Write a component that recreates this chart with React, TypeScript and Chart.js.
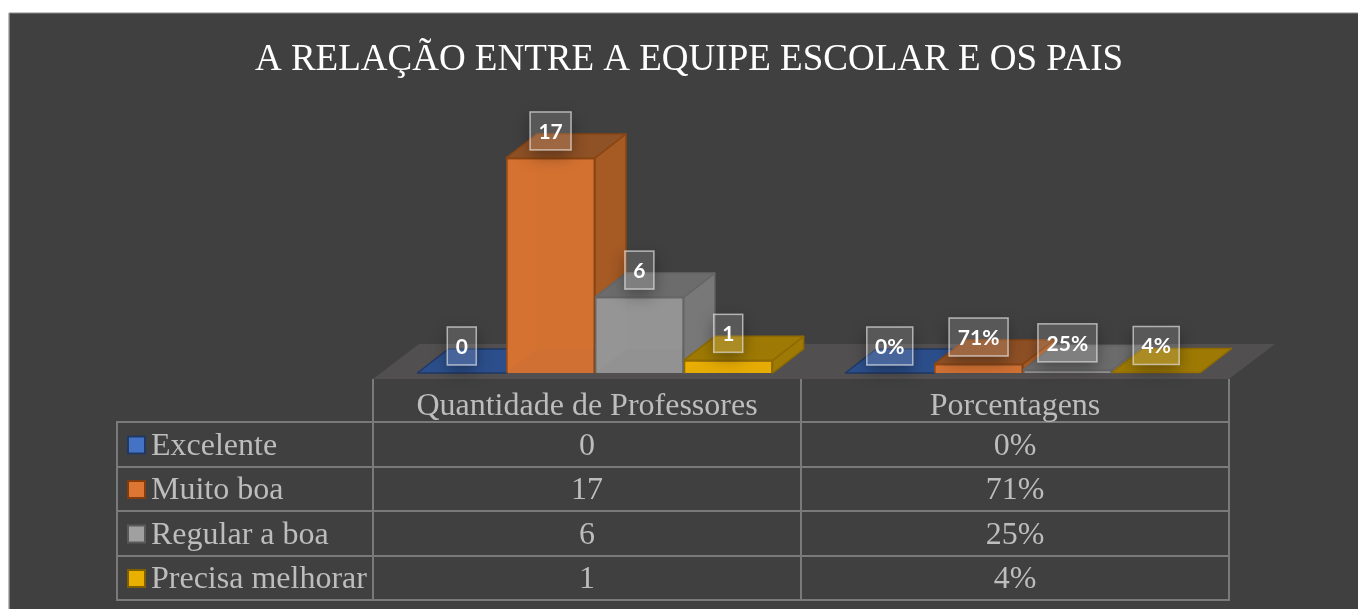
import React, { useEffect, useRef } from "react";
import { Chart, registerables } from "chart.js";

Chart.register(...registerables);

const chartTitle = "A RELAÇÃO ENTRE A EQUIPE ESCOLAR E OS PAIS";
const categories = ["Quantidade de Professores", "Porcentagens"];
const seriesNames = ["Excelente", "Muito boa", "Regular a boa", "Precisa melhorar"];
const excelente = [0, 0];
const muitoBoa = [17, 0.71];
const regularBoa = [6, 0.25];
const precisaMelhorar = [1, 0.04];
const excelenteText = ["0", "0%"];
const muitoBoaText = ["17", "71%"];
const regularBoaText = ["6", "25%"];
const precisaMelhorarText = ["1", "4%"];

const seriesValues = [excelente, muitoBoa, regularBoa, precisaMelhorar];
const seriesText = [excelenteText, muitoBoaText, regularBoaText, precisaMelhorarText];

const frontColors = ["rgba(68,114,196,0.9)", "rgba(216,115,50,0.94)", "rgba(152,152,152,0.92)", "rgba(238,176,0,0.95)"];
const borderColors = ["#1F3864", "#8A4513", "#666666", "#8F6A00"];
const topColors = ["#2C4F8C", "#8F5126", "#6C6C6C", "#9E7A04"];
const sideColors = ["#2C4F8C", "#A65A24", "#787878", "#9E7A04"];
const keyColors = ["#4472C4", "#DD7533", "#A0A0A0", "#EAB000"];
const keyBorders = ["#203864", "#843C0C", "#5A5A5A", "#7F6000"];

const DX = 31;
const DY = 24;

function poly(ctx: CanvasRenderingContext2D, pts: number[][], fill: string | null, stroke?: string, lw = 1.5) {
  ctx.beginPath();
  pts.forEach((p, i) => (i ? ctx.lineTo(p[0], p[1]) : ctx.moveTo(p[0], p[1])));
  ctx.closePath();
  if (fill) {
    ctx.fillStyle = fill;
    ctx.fill();
  }
  if (stroke) {
    ctx.strokeStyle = stroke;
    ctx.lineWidth = lw;
    ctx.lineJoin = "round";
    ctx.stroke();
  }
}

const scene3d = {
  id: "scene3d",
  beforeDraw(chart: any) {
    const ctx = chart.ctx as CanvasRenderingContext2D;
    ctx.save();
    ctx.fillStyle = "#404040";
    ctx.fillRect(9, 13, 1349, 596);
    ctx.fillStyle = "#BDBDBD";
    ctx.fillRect(8, 13, 1.5, 596);
    ctx.fillStyle = "#8C8C8C";
    ctx.fillRect(9, 12.5, 1349, 1);
    ctx.fillStyle = "#FFFFFF";
    ctx.font = "37px 'Liberation Serif'";
    ctx.textAlign = "center";
    ctx.textBaseline = "middle";
    ctx.fillText(chartTitle, 689, 60);
    ctx.restore();
  },
  beforeDatasetsDraw(chart: any) {
    const ctx = chart.ctx as CanvasRenderingContext2D;
    const { left, right } = chart.chartArea;
    const base = chart.scales.y.getPixelForValue(0);
    const tableLeft = left - 8;
    const tableRight = right - 8;
    ctx.save();
    poly(ctx, [
      [tableLeft, base + 6],
      [tableRight, base + 6],
      [tableRight + 46, base - 29],
      [tableLeft + 46, base - 29],
    ], "#514F4F");
    categories.forEach((_, c) => {
      seriesValues.forEach((_, s) => {
        const el = chart.getDatasetMeta(s).data[c];
        const { x, y, base: b, width } = el.getProps(["x", "y", "base", "width"], true);
        const l = x - width / 2;
        const r = x + width / 2;
        if (b - y > 8) {
          poly(ctx, [[l, b], [l + DX, b - DY], [l + DX, y - DY], [l, y]], sideColors[s]);
          poly(ctx, [[l + DX, y - DY], [r + DX, y - DY], [r + DX, b - DY], [l + DX, b - DY]], topColors[s]);
        }
        if (b - y > 1) {
          poly(ctx, [[r, y], [r + DX, y - DY], [r + DX, b - DY], [r, b]], sideColors[s], borderColors[s]);
        }
        poly(ctx, [[l, y], [r, y], [r + DX, y - DY], [l + DX, y - DY]], topColors[s], borderColors[s]);
      });
    });
    ctx.restore();
  },
  afterDatasetsDraw(chart: any) {
    const ctx = chart.ctx as CanvasRenderingContext2D;
    ctx.save();
    ctx.font = "bold 21px Lato";
    ctx.textAlign = "center";
    ctx.textBaseline = "middle";
    categories.forEach((_, c) => {
      seriesValues.forEach((_, s) => {
        const el = chart.getDatasetMeta(s).data[c];
        const { x, y } = el.getProps(["x", "y"], true);
        const text = seriesText[s][c];
        const w = Math.round(ctx.measureText(text).width) + 17;
        const h = 38;
        const cy = y - 27;
        const bx = x - w / 2;
        const by = cy - h / 2;
        ctx.save();
        ctx.beginPath();
        ctx.rect(0, 0, 1358, 609);
        ctx.rect(bx, by, w, h);
        ctx.clip("evenodd");
        ctx.shadowColor = "rgba(0,0,0,0.35)";
        ctx.shadowBlur = 16;
        ctx.shadowOffsetY = 6;
        ctx.fillStyle = "#000";
        ctx.fillRect(bx, by, w, h);
        ctx.restore();
        ctx.fillStyle = "rgba(255,255,255,0.13)";
        ctx.fillRect(bx, by, w, h);
        ctx.strokeStyle = "rgba(255,255,255,0.6)";
        ctx.lineWidth = 1.5;
        ctx.strokeRect(bx, by, w, h);
        ctx.fillStyle = "#FFFFFF";
        ctx.fillText(text, x, cy + 1);
      });
    });
    ctx.restore();

    // Data table below the plot
    const { left, right } = chart.chartArea;
    const base = chart.scales.y.getPixelForValue(0);
    const tl = left - 8;
    const tr = right - 8;
    const tm = (tl + tr) / 2;
    const tableOuter = 117;
    const rowLines = [422, 467, 511, 556, 600];
    const tableTop = base + 6;
    ctx.save();
    ctx.strokeStyle = "#7A7A7A";
    ctx.lineWidth = 2;
    ctx.beginPath();
    [tl, tm, tr].forEach((vx) => {
      ctx.moveTo(vx, tableTop);
      ctx.lineTo(vx, rowLines[4]);
    });
    ctx.moveTo(tableOuter, rowLines[0]);
    ctx.lineTo(tableOuter, rowLines[4]);
    rowLines.forEach((ry) => {
      ctx.moveTo(tableOuter - 1, ry);
      ctx.lineTo(tr + 1, ry);
    });
    ctx.stroke();
    ctx.font = "32px 'Liberation Serif'";
    ctx.textBaseline = "middle";
    ctx.textAlign = "center";
    ctx.fillStyle = "#BDBDBD";
    const colCenters = [(tl + tm) / 2, (tm + tr) / 2];
    categories.forEach((cat, c) => ctx.fillText(cat, colCenters[c], 407));
    seriesNames.forEach((name, s) => {
      const cy = (rowLines[s] + rowLines[s + 1]) / 2 + 2;
      ctx.fillStyle = keyColors[s];
      ctx.strokeStyle = keyBorders[s];
      ctx.lineWidth = 2;
      ctx.fillRect(128, cy - 10, 17, 17);
      ctx.strokeRect(128, cy - 10, 17, 17);
      ctx.fillStyle = "#BDBDBD";
      ctx.textAlign = "left";
      ctx.fillText(name, 151, cy);
      ctx.textAlign = "center";
      categories.forEach((_, c) => ctx.fillText(seriesText[s][c], colCenters[c], cy));
    });
    ctx.restore();
  },
};

export default function App() {
  const ref = useRef<HTMLCanvasElement | null>(null);
  useEffect(() => {
    if (!ref.current) return;
    const chart = new Chart(ref.current, {
      type: "bar",
      data: {
        labels: categories,
        datasets: seriesNames.map((name, s) => ({
          label: name,
          data: seriesValues[s],
          backgroundColor: frontColors[s],
          borderColor: borderColors[s],
          borderWidth: 1.5,
          barPercentage: 1,
          categoryPercentage: 0.83,
        })),
      },
      options: {
        responsive: false,
        animation: false,
        layout: { padding: { left: 381, right: 121, top: 120, bottom: 236 } },
        plugins: {
          legend: { display: false },
          title: { display: false },
          tooltip: { enabled: false },
        },
        scales: {
          x: { display: false, grid: { display: false } },
          y: { display: false, min: 0, max: 20, grid: { display: false } },
        },
      },
      plugins: [scene3d],
    } as any);
    return () => chart.destroy();
  }, []);
  return (
    <div style={{ position: "absolute", left: 0, top: 0, width: 1358, height: 609, background: "#fff" }}>
      <canvas ref={ref} width={1358} height={609} style={{ display: "block" }} />
    </div>
  );
}
